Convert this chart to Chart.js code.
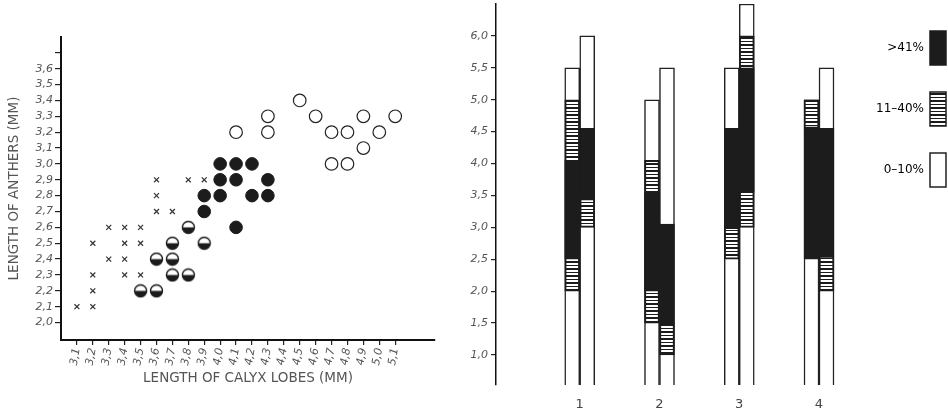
<!DOCTYPE html>
<html>
<head>
<meta charset="utf-8">
<script src="https://cdn.jsdelivr.net/npm/chart.js@4.4.1/dist/chart.umd.min.js"></script>
<style>
  html, body { margin: 0; padding: 0; background: #fff; overflow: hidden; width: 948px; height: 413px; }
  #graficaPuntos { position: absolute; left: 0; top: 0; }
  #graficaBarras { position: absolute; left: 460px; top: 0; }
</style>
</head>
<body>
<canvas id="graficaPuntos" width="460" height="413"></canvas>
<canvas id="graficaBarras" width="513" height="413"></canvas>
<script>
// ---- Datos gráfica izquierda (calyx, anthers) ----
const puntosCruz = [
    [3.1, 2.1], [3.2, 2.1], [3.2, 2.2], [3.2, 2.3], [3.2, 2.5],
    [3.3, 2.4], [3.3, 2.6], [3.4, 2.3], [3.4, 2.4], [3.4, 2.5], [3.4, 2.6],
    [3.5, 2.3], [3.5, 2.5], [3.5, 2.6], [3.6, 2.7], [3.6, 2.8], [3.6, 2.9],
    [3.7, 2.7], [3.8, 2.9], [3.9, 2.9]
];
const puntosMedios = [
    [3.5, 2.2], [3.6, 2.2], [3.6, 2.4], [3.7, 2.3], [3.7, 2.4],
    [3.7, 2.5], [3.8, 2.3], [3.8, 2.6], [3.9, 2.5]
];
const puntosLlenos = [
    [3.9, 2.7], [3.9, 2.8], [4.0, 2.8], [4.0, 2.9], [4.0, 3.0], [4.1, 2.6],
    [4.1, 2.9], [4.1, 3.0], [4.2, 2.8], [4.2, 3.0], [4.3, 2.8], [4.3, 2.9]
];
const puntosVacios = [
    [4.1, 3.2], [4.3, 3.2], [4.3, 3.3], [4.5, 3.4], [4.6, 3.3], [4.7, 3.2], [4.7, 3.0],
    [4.8, 3.2], [4.8, 3.0], [4.9, 3.3], [4.9, 3.1], [5.0, 3.2], [5.1, 3.3]
];
const ticksX = [3.1, 3.2, 3.3, 3.4, 3.5, 3.6, 3.7, 3.8, 3.9, 4.0, 4.1, 4.2, 4.3, 4.4, 4.5, 4.6, 4.7, 4.8, 4.9, 5.0, 5.1];
const etiquetasX = ['3,1', '3,2', '3,3', '3,4', '3,5', '3,6', '3,7', '3,8', '3,9', '4,0', '4,1',
    '4,2', '4,3', '4,4', '4,5', '4,6', '4,7', '4,8', '4,9', '5,0', '5,1'];
const ticksY = [2.0, 2.1, 2.2, 2.3, 2.4, 2.5, 2.6, 2.7, 2.8, 2.9, 3.0, 3.1, 3.2, 3.3, 3.4, 3.5, 3.6, 3.7];
const etiquetasY = ['2,0', '2,1', '2,2', '2,3', '2,4', '2,5', '2,6', '2,7', '2,8', '2,9',
    '3,0', '3,1', '3,2', '3,3', '3,4', '3,5', '3,6', ''];

// ---- Datos gráfica derecha (columnas por grupo) ----
const grupos = [1, 2, 3, 4];
const etiquetasGrupos = ['1', '2', '3', '4'];
// columna izquierda de cada grupo
const altoIzq = [5.5, 5.0, 5.5, 5.0];
const rayadoIzq = [[2.0, 5.0], [1.5, 4.05], [2.5, 3.0], [4.55, 5.0]];
const negroIzq = [[2.5, 4.05], [2.0, 3.55], [3.0, 4.55], [2.5, 4.55]];
// columna derecha de cada grupo
const altoDer = [6.0, 5.5, 6.5, 5.5];
const rayadoDer = [[3.0, 3.45], [1.0, 1.5], [3.0, 6.0], [2.0, 2.55]];
const negroDer = [[3.45, 4.55], [1.5, 3.05], [3.55, 5.5], [2.55, 4.55]];
const ticksDer = [1.0, 1.5, 2.0, 2.5, 3.0, 3.5, 4.0, 4.5, 5.0, 5.5, 6.0];
const etiquetasDer = ['1,0', '1,5', '2,0', '2,5', '3,0', '3,5', '4,0', '4,5', '5,0', '5,5', '6,0'];
const leyenda = ['>41%', '11–40%', '0–10%'];

const NEGRO = '#1c1c1c';
const GRIS = '#555';
const fuenteTick = { family: 'DejaVu Sans', size: 11, style: 'italic' };
const fuenteTitulo = { family: 'DejaVu Sans', size: 13.5 };

// Helpers
function aPuntos(lista) {
    return lista.map(([x, y]) => ({ x, y }));
}
function circuloMedio() {
    const c = document.createElement('canvas');
    c.width = 15; c.height = 15;
    const g = c.getContext('2d');
    g.beginPath(); g.arc(7.5, 7.5, 6, 0, Math.PI * 2); g.fillStyle = '#fff'; g.fill();
    g.beginPath(); g.arc(7.5, 7.5, 6, 0, Math.PI); g.closePath(); g.fillStyle = NEGRO; g.fill();
    g.beginPath(); g.arc(7.5, 7.5, 6, 0, Math.PI * 2); g.lineWidth = 1.4; g.strokeStyle = NEGRO; g.stroke();
    return c;
}
function patronRayado(ctx) {
    const c = document.createElement('canvas');
    c.width = 4; c.height = 7;
    const g = c.getContext('2d');
    g.fillStyle = NEGRO; g.fillRect(0, 0, 4, 7);
    g.fillStyle = '#fff'; g.fillRect(0, 0, 4, 2); g.fillRect(0, 4, 4, 2);
    return ctx.createPattern(c, 'repeat');
}

// Gráfica 1: dispersión
new Chart(document.getElementById('graficaPuntos'), {
    type: 'scatter',
    data: {
        datasets: [
            { data: aPuntos(puntosCruz), pointStyle: 'crossRot', pointRadius: 3.5, borderColor: '#333', borderWidth: 1.2 },
            { data: aPuntos(puntosMedios), pointStyle: circuloMedio() },
            { data: aPuntos(puntosLlenos), pointStyle: 'circle', pointRadius: 6.3, backgroundColor: NEGRO, borderColor: NEGRO, borderWidth: 1 },
            { data: aPuntos(puntosVacios), pointStyle: 'circle', pointRadius: 6.3, backgroundColor: '#fff', borderColor: '#222', borderWidth: 1.2 }
        ]
    },
    options: {
        responsive: false,
        animation: false,
        layout: { padding: { left: 4, top: 37, right: 25, bottom: 22 } },
        plugins: { legend: { display: false }, tooltip: { enabled: false } },
        scales: {
            x: {
                type: 'linear', min: 3.0, max: 5.35,
                afterBuildTicks: s => { s.ticks = ticksX.map(v => ({ value: v })); },
                afterFit: s => { s.height = 51; },
                ticks: { callback: (v, i) => etiquetasX[i], minRotation: 80, maxRotation: 80, autoSkip: false, font: fuenteTick, color: GRIS, padding: 2 },
                grid: { drawOnChartArea: false, tickLength: 5, color: '#222', lineWidth: 1.2 },
                border: { color: '#111', width: 2 },
                title: { display: true, text: 'LENGTH OF CALYX LOBES (MM)', color: GRIS, font: fuenteTitulo, padding: { top: 4, bottom: 4 } }
            },
            y: {
                min: 1.89, max: 3.8,
                afterBuildTicks: s => { s.ticks = ticksY.map(v => ({ value: v })); },
                afterFit: s => { s.width = 57; },
                ticks: { callback: (v, i) => etiquetasY[i], font: fuenteTick, color: GRIS, padding: 2 },
                grid: { drawOnChartArea: false, tickLength: 6, color: '#222', lineWidth: 1.2 },
                border: { color: '#111', width: 2 },
                title: { display: true, text: 'LENGTH OF ANTHERS (MM)', color: GRIS, font: fuenteTitulo, padding: { top: 2, bottom: 2 } }
            }
        }
    }
});

// Gráfica 2: columnas por grupo
const ctx2 = document.getElementById('graficaBarras').getContext('2d');
const rayado = patronRayado(ctx2);
const base = { borderSkipped: false, barThickness: 15, borderColor: '#222' };

new Chart(ctx2, {
    type: 'bar',
    data: {
        labels: grupos,
        datasets: [
            { ...base, data: negroIzq, stack: 'izq', backgroundColor: NEGRO, borderColor: NEGRO, borderWidth: 1 },
            { ...base, data: negroDer, stack: 'der', backgroundColor: NEGRO, borderColor: NEGRO, borderWidth: 1 },
            { ...base, data: rayadoIzq, stack: 'izq', backgroundColor: rayado, borderColor: NEGRO, borderWidth: 2 },
            { ...base, data: rayadoDer, stack: 'der', backgroundColor: rayado, borderColor: NEGRO, borderWidth: 2 },
            { ...base, data: altoIzq, stack: 'izq', backgroundColor: '#fff', borderWidth: 1.5 },
            { ...base, data: altoDer, stack: 'der', backgroundColor: '#fff', borderWidth: 1.5 }
        ]
    },
    options: {
        responsive: false,
        animation: false,
        layout: { padding: { left: 0, top: 4, right: 0, bottom: 0 } },
        plugins: {
            tooltip: { enabled: false },
            legend: {
                position: 'right', align: 'start', rtl: true,
                onClick: null,
                labels: {
                    boxWidth: 16, boxHeight: 34, padding: 27,
                    color: GRIS, font: { family: 'DejaVu Sans', size: 12 },
                    generateLabels: () => [
                        { text: leyenda[0], fillStyle: NEGRO, strokeStyle: NEGRO, lineWidth: 1.5 },
                        { text: leyenda[1], fillStyle: rayado, strokeStyle: NEGRO, lineWidth: 1.5 },
                        { text: leyenda[2], fillStyle: '#fff', strokeStyle: '#222', lineWidth: 1.5 }
                    ]
                }
            }
        },
        scales: {
            x: {
                type: 'linear', min: -0.05, max: 4.59, offset: false,
                afterBuildTicks: s => { s.ticks = grupos.map(v => ({ value: v })); },
                afterFit: s => { s.height = 28; },
                ticks: { callback: v => etiquetasGrupos[grupos.indexOf(v)], color: '#444', font: { family: 'DejaVu Sans', size: 13 }, padding: 12 },
                grid: { display: false, drawTicks: false, offset: false },
                border: { display: false }
            },
            y: {
                stacked: false,
                min: 0.53, max: 6.5,
                afterBuildTicks: s => { s.ticks = ticksDer.map(v => ({ value: v })); },
                afterFit: s => { s.width = 36; s.paddingTop = 0; s.paddingBottom = 0; },
                ticks: { callback: (v, i) => etiquetasDer[i], font: fuenteTick, color: GRIS, padding: 3 },
                grid: { drawOnChartArea: false, tickLength: 5, color: '#222', lineWidth: 1.2 },
                border: { color: '#111', width: 1.5 }
            }
        }
    }
});
</script>
</body>
</html>
